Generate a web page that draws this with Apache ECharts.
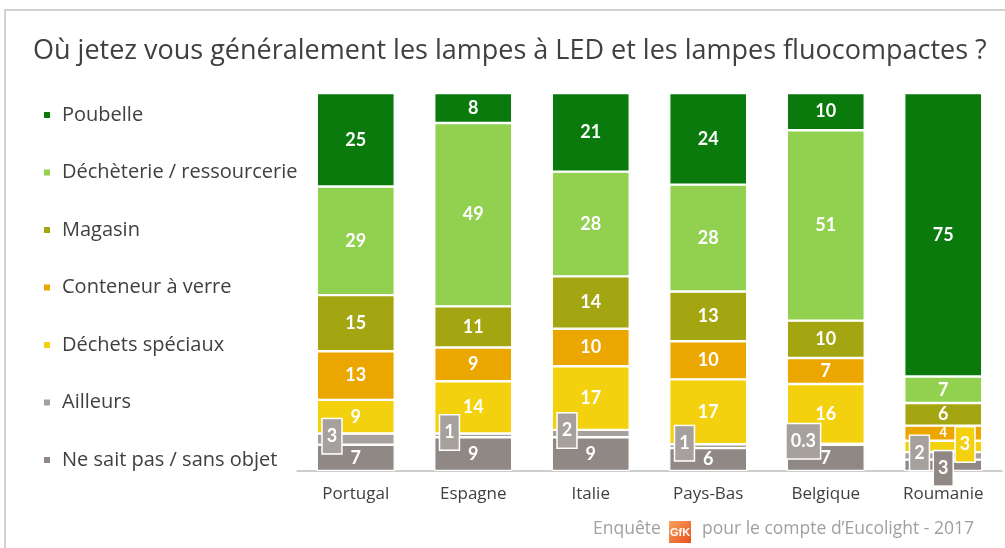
<!DOCTYPE html>
<html>
    <head>
        <meta charset="utf-8">
        <title>Lampes LED et fluocompactes</title>
        <script src="https://cdn.jsdelivr.net/npm/echarts@6/dist/echarts.min.js"></script>
        <style>
            html, body { margin: 0; padding: 0; background: #fff; }
            #chart1 { width: 1005px; height: 548px; }
        </style>
    </head>
    <body>
        <div id="chart1"></div>
    </body>

    <script type="text/javascript">
        // pays (axe x)
        var pays = ['Portugal', 'Espagne', 'Italie', 'Pays-Bas', 'Belgique', 'Roumanie'];

        // réponses, dans l'ordre de la légende (haut -> bas)
        var reponses = ['Poubelle', 'Déchèterie / ressourcerie', 'Magasin', 'Conteneur à verre',
                        'Déchets spéciaux', 'Ailleurs', 'Ne sait pas / sans objet'];

        // valeurs (%)
        var poubelle    = [25,  8, 21, 24, 10, 75];
        var decheterie  = [29, 49, 28, 28, 51,  7];
        var magasin     = [15, 11, 14, 13, 10,  6];
        var conteneur   = [13,  9, 10, 10,  7,  4];
        var speciaux    = [ 9, 14, 17, 17, 16,  3];
        var ailleurs    = [ 3,  1,  2,  1, 0.3, 2];
        var neSaitPas   = [ 7,  9,  9,  6,  7,  3];

        var couleurs = ['#097a0b', '#92d050', '#a3a611', '#eca600', '#f4d10f', '#a7a19e', '#8f8885'];

        var valeurs = [poubelle, decheterie, magasin, conteneur, speciaux, ailleurs, neSaitPas];

        // total par pays : chaque barre est ramenée à 100
        var totaux = pays.map(function (p, i) {
            return valeurs.reduce(function (s, v) { return s + v[i]; }, 0);
        });

        var labelBase = {
            show: true,
            color: '#fff',
            fontFamily: 'Lato',
            fontWeight: 'bold',
            fontSize: 18
        };

        function boite(fond) {
            return {
                backgroundColor: fond,
                borderColor: '#fff',
                borderWidth: 1.5,
                padding: [9, 4, 7, 4]
            };
        }

        // réglages particuliers de quelques étiquettes (petits segments)
        function labelPour(k, i) {
            var nom = reponses[k];
            if (nom === 'Ailleurs') {
                return Object.assign({}, labelBase, boite(couleurs[k]), {
                    position: 'insideLeft',
                    distance: i === 4 ? 0 : 6,
                    offset: [0, -3]
                });
            }
            if (pays[i] === 'Roumanie' && nom === 'Ne sait pas / sans objet') {
                return Object.assign({}, labelBase, boite(couleurs[k]), { position: 'inside', offset: [0, 3] });
            }
            if (pays[i] === 'Roumanie' && nom === 'Déchets spéciaux') {
                return Object.assign({}, labelBase, boite(couleurs[k]), { position: 'insideRight', distance: 8, offset: [0, -2] });
            }
            if (pays[i] === 'Roumanie' && nom === 'Conteneur à verre') {
                return Object.assign({}, labelBase, { fontSize: 13 });
            }
            return labelBase;
        }

        // séries du bas vers le haut pour l'empilement
        var series = [];
        for (var k = reponses.length - 1; k >= 0; k--) {
            (function (k) {
                series.push({
                    name: reponses[k],
                    type: 'bar',
                    stack: 'total',
                    barWidth: 78,
                    itemStyle: { color: couleurs[k], borderColor: '#fff', borderWidth: 1.2 },
                    data: valeurs[k].map(function (v, i) {
                        return {
                            value: v / totaux[i] * 100,
                            brut: v,
                            label: labelPour(k, i)
                        };
                    }),
                    label: {
                        formatter: function (p) { return p.data.brut; }
                    }
                });
            })(k);
        }

        var myChart1 = echarts.init(document.getElementById('chart1'));

        myChart1.setOption({
            animation: false,
            title: {
                text: 'Où jetez vous généralement les lampes à LED et les lampes fluocompactes ?',
                left: 28,
                top: 33,
                textStyle: {
                    fontFamily: 'Open Sans',
                    fontWeight: 'normal',
                    fontSize: 27,
                    color: '#404040'
                }
            },
            legend: {
                data: reponses,
                orient: 'vertical',
                left: 37,
                top: 100,
                itemWidth: 8,
                itemHeight: 8,
                itemGap: 37.5,
                icon: 'rect',
                textStyle: {
                    fontFamily: 'Open Sans',
                    fontSize: 20,
                    lineHeight: 20,
                    color: '#404040',
                    padding: [0, 0, 0, 6]
                },
                selectedMode: false
            },
            grid: {
                left: 297,
                right: 3,
                top: 93,
                bottom: 77
            },
            xAxis: {
                type: 'category',
                data: pays,
                axisLine: { lineStyle: { color: '#bdbdbd', width: 1.5 } },
                axisTick: { show: false },
                axisLabel: {
                    margin: 15,
                    fontFamily: 'Open Sans',
                    fontSize: 17,
                    color: '#404040'
                }
            },
            yAxis: {
                type: 'value',
                min: 0,
                max: 100,
                show: false
            },
            graphic: [
                {
                    type: 'polyline',
                    shape: { points: [[5, 548], [5, 10], [1005, 10]] },
                    style: { stroke: '#c4c4c4', lineWidth: 1.5, fill: null }
                },
                {
                    type: 'text',
                    left: 593,
                    top: 520,
                    style: { text: 'Enquête', font: '17.5px "Open Sans"', fill: '#a0a0a0' }
                },
                {
                    type: 'group',
                    left: 669,
                    top: 521,
                    children: [
                        {
                            type: 'rect',
                            shape: { x: 0, y: 0, width: 22, height: 22 },
                            style: {
                                fill: new echarts.graphic.LinearGradient(0, 0, 1, 1, [
                                    { offset: 0, color: '#f7a35c' },
                                    { offset: 1, color: '#e8501d' }
                                ])
                            }
                        },
                        {
                            type: 'text',
                            x: 11,
                            y: 11.5,
                            style: {
                                text: 'GfK',
                                font: 'bold 11px "Liberation Sans"',
                                fill: '#fff',
                                align: 'center',
                                verticalAlign: 'middle'
                            }
                        }
                    ]
                },
                {
                    type: 'text',
                    left: 702,
                    top: 520,
                    style: { text: 'pour le compte d’Eucolight - 2017', font: '17.5px "Open Sans"', fill: '#a0a0a0' }
                }
            ],
            series: series
        });
    </script>

</html>
